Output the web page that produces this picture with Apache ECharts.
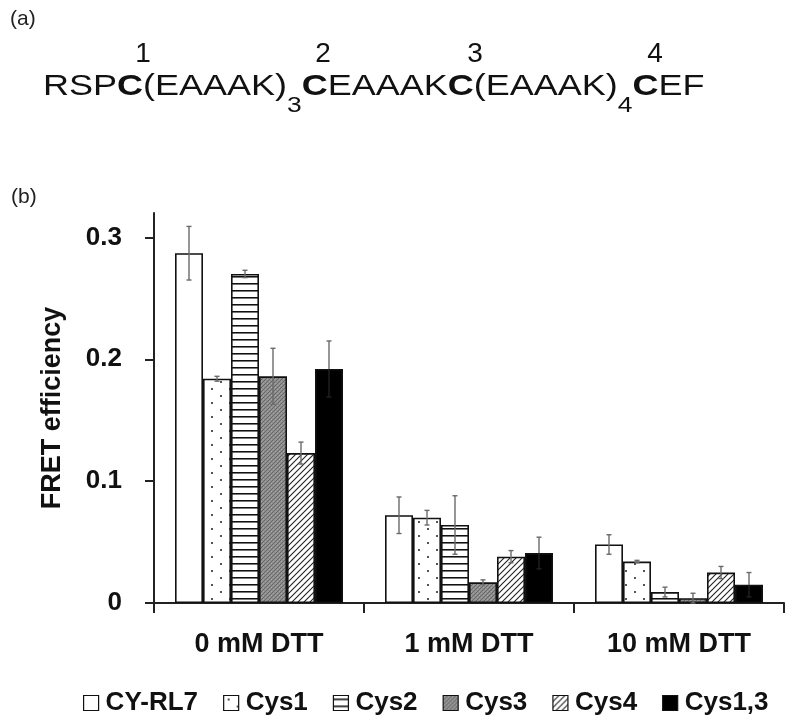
<!DOCTYPE html>
<html><head><meta charset="utf-8">
<script src="https://cdn.jsdelivr.net/npm/echarts@6/dist/echarts.min.js"></script>
<style>html,body{margin:0;padding:0;background:#fff}#c{width:800px;height:725px}</style>
</head><body><div id="c"></div>
<script>
// ---- data ----
const categories = ['0 mM DTT', '1 mM DTT', '10 mM DTT'];
const seriesNames = ['CY-RL7', 'Cys1', 'Cys2', 'Cys3', 'Cys4', 'Cys1,3'];
const valCYRL7 = [0.287, 0.072, 0.048];
const valCys1  = [0.184, 0.070, 0.034];
const valCys2  = [0.270, 0.064, 0.009];
const valCys3  = [0.186, 0.017, 0.004];
const valCys4  = [0.123, 0.038, 0.025];
const valCys13 = [0.192, 0.041, 0.015];
const errCYRL7 = [0.022, 0.015, 0.008];
const errCys1  = [0.002, 0.006, 0.001];
const errCys2  = [0.003, 0.024, 0.004];
const errCys3  = [0.023, 0.002, 0.004];
const errCys4  = [0.009, 0.005, 0.005];
const errCys13 = [0.023, 0.013, 0.010];
const yTickValues = [0, 0.1, 0.2, 0.3];
const yTickLabels = ['0', '0.1', '0.2', '0.3'];
const siteNumbers = ['1', '2', '3', '4'];

const values = [valCYRL7, valCys1, valCys2, valCys3, valCys4, valCys13];
const errors = [errCYRL7, errCys1, errCys2, errCys3, errCys4, errCys13];

const FONT = "'Liberation Sans', Arial, Helvetica, sans-serif";

// ---- patterns ----
function tile(w, h, draw) {
  const c = document.createElement('canvas');
  c.width = w; c.height = h;
  const g = c.getContext('2d');
  g.fillStyle = '#fff'; g.fillRect(0, 0, w, h);
  draw(g);
  return { image: c, repeat: 'repeat' };
}
const patDots = tile(18, 14, g => { g.fillStyle = '#555'; g.fillRect(4, 3, 2, 2); g.fillRect(13, 10, 2, 2); });
const patHLines = tile(8, 7, g => { g.fillStyle = '#111'; g.fillRect(0, 3, 8, 1); g.fillStyle = '#777'; g.fillRect(0, 4, 8, 1); });
const patGray = tile(4, 4, g => {
  g.fillStyle = '#8e8e8e'; g.fillRect(0, 0, 4, 4);
  g.fillStyle = '#666';
  g.fillRect(0, 0, 1, 1); g.fillRect(2, 2, 1, 1); g.fillRect(1, 3, 1, 1); g.fillRect(3, 1, 1, 1);
  g.fillStyle = '#a4a4a4';
  g.fillRect(1, 1, 1, 1); g.fillRect(3, 3, 1, 1);
});
const patDiag = tile(6, 6, g => {
  g.strokeStyle = '#222'; g.lineWidth = 1.1;
  g.beginPath();
  g.moveTo(-1, 7); g.lineTo(7, -1);
  g.moveTo(-4, 4); g.lineTo(4, -4);
  g.moveTo(2, 10); g.lineTo(10, 2);
  g.stroke();
});
const fills = ['#ffffff', patDots, patHLines, patGray, patDiag, '#000000'];

const barSeries = seriesNames.map((n, i) => ({
  name: n,
  type: 'bar',
  data: values[i],
  barGap: '0%',
  barCategoryGap: '20%',
  itemStyle: { color: fills[i], borderColor: '#111', borderWidth: 1.6 },
  emphasis: { disabled: true },
  z: 2
}));

const errData = [];
for (let s = 0; s < seriesNames.length; s++) {
  for (let c = 0; c < categories.length; c++) {
    errData.push([c, s, values[s][c], errors[s][c]]);
  }
}

const errSeries = {
  name: 'err',
  type: 'custom',
  data: errData,
  encode: { x: 0, y: 2 },
  z: 5,
  silent: true,
  renderItem(params, api) {
    const ci = api.value(0), si = api.value(1), v = api.value(2), e = api.value(3);
    const band = api.size([1, 0])[0];
    const bw = band * 0.8 / seriesNames.length;
    const cx = api.coord([ci, 0])[0] - band * 0.4 + bw * (si + 0.5);
    const yt = api.coord([ci, v + e])[1];
    const yb = api.coord([ci, Math.max(v - e, 0)])[1];
    const cap = 2.5;
    const col = si === seriesNames.length - 1 ? '#222' : '#6a6a6a';
    const st = { stroke: col, lineWidth: 1.4 };
    const stUp = { stroke: '#6a6a6a', lineWidth: 1.4 };
    const yv = api.coord([ci, v])[1];
    return { type: 'group', children: [
      { type: 'line', shape: { x1: cx, y1: yt, x2: cx, y2: yv }, style: stUp },
      { type: 'line', shape: { x1: cx, y1: yv, x2: cx, y2: yb }, style: st },
      { type: 'line', shape: { x1: cx - cap, y1: yt, x2: cx + cap, y2: yt }, style: stUp },
      { type: 'line', shape: { x1: cx - cap, y1: yb, x2: cx + cap, y2: yb }, style: st }
    ] };
  }
};

const chart = echarts.init(document.getElementById('c'), null, { renderer: 'canvas' });

const seqRich = {
  n: { fontSize: 30, fontFamily: FONT, lineHeight: 30, verticalAlign: 'top', fill: '#111' },
  b: { fontSize: 30, fontFamily: FONT, fontWeight: 'bold', lineHeight: 30, verticalAlign: 'top', fill: '#111' },
  s: { fontSize: 22, fontFamily: FONT, lineHeight: 68, verticalAlign: 'middle', fill: '#111' }
};
const seqText = '{n|RSP}{b|C}{n|(EAAAK)}{s|3}{b|C}{n|EAAAK}{b|C}{n|(EAAAK)}{s|4}{b|C}{n|EF}';
const numX = [143, 323, 475, 655];

chart.setOption({
  animation: false,
  backgroundColor: '#fff',
  textStyle: { fontFamily: FONT },
  grid: { left: 154, right: 16, top: 213, bottom: 122, containLabel: false },
  legend: {
    data: seriesNames,
    left: 78, top: 685,
    itemWidth: 15, itemHeight: 15, itemGap: 25,
    icon: 'rect',
    selectedMode: false,
    itemStyle: { borderWidth: 1.2 },
    textStyle: { fontSize: 26, fontWeight: 'bold', color: '#111', fontFamily: FONT, padding: [0, 0, 0, 2] }
  },
  xAxis: {
    type: 'category',
    data: categories,
    axisLine: { lineStyle: { color: '#222', width: 2 } },
    axisTick: { show: true, length: 10, lineStyle: { color: '#222', width: 2 } },
    axisLabel: { fontSize: 27, fontWeight: 'bold', color: '#111', margin: 28, fontFamily: FONT },
    splitLine: { show: false }
  },
  yAxis: {
    type: 'value',
    min: 0, max: 0.32, interval: 0.1,
    name: 'FRET efficiency',
    nameLocation: 'middle',
    nameRotate: 90,
    nameGap: 88,
    nameTextStyle: { fontSize: 27, fontWeight: 'bold', color: '#111', fontFamily: FONT },
    axisLine: { show: true, lineStyle: { color: '#222', width: 2 } },
    axisTick: { show: true, length: 9, lineStyle: { color: '#222', width: 2 } },
    axisLabel: {
      fontSize: 26, fontWeight: 'bold', color: '#111', margin: 32, fontFamily: FONT,
      showMaxLabel: false,
      formatter: v => { const i = yTickValues.findIndex(t => Math.abs(t - v) < 1e-9); return i >= 0 ? yTickLabels[i] : ''; }
    },
    splitLine: { show: false }
  },
  graphic: [
    { type: 'text', left: 10, top: 9, style: { text: '(a)', font: '21px ' + FONT, fill: '#222' } },
    { type: 'text', left: 11, top: 187, style: { text: '(b)', font: '21px ' + FONT, fill: '#222' } },
    ...siteNumbers.map((t, i) => ({ type: 'text', x: numX[i], y: 54, style: { text: t, font: '28px ' + FONT, fill: '#111', align: 'center', verticalAlign: 'middle' } })),
    { type: 'text', x: 43, y: 72, scaleX: 1.2, style: { text: seqText, rich: seqRich, verticalAlign: 'top', align: 'left' } }
  ],
  series: [...barSeries, errSeries]
});
</script>
</body></html>
